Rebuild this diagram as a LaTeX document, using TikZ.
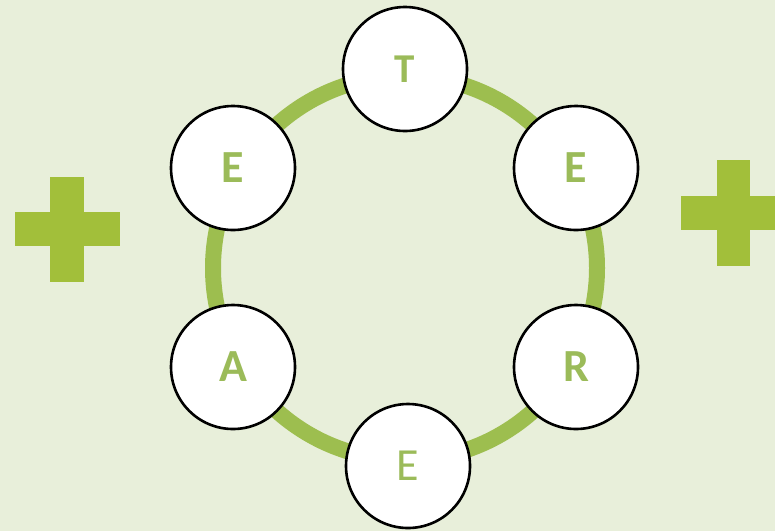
\documentclass[tikz,border=0pt]{standalone}
\usepackage{fontspec}
\setmainfont{Carlito}
\definecolor{bgc}{HTML}{E8EFDA}
\definecolor{ringc}{HTML}{9DBE4F}
\definecolor{plusc}{HTML}{A2BF3A}
\definecolor{txtc}{HTML}{9BBB59}
\begin{document}
\begin{tikzpicture}[x=1pt,y=-1pt,
  letter/.style={circle,draw=black,line width=2.6pt,fill=white,minimum size=124pt,inner sep=0pt,text=txtc,font=\fontsize{46}{46}\selectfont\bfseries},
  pluspart/.style={fill=plusc}]
\useasboundingbox (0,0) rectangle (775,531);
\fill[bgc] (0,0) rectangle (775,531);
% plus signs
\fill[pluspart] (50,177) rectangle (84,282);
\fill[pluspart] (14.5,212.3) rectangle (119.5,246.3);
\fill[pluspart] (716.7,160) rectangle (750.3,266);
\fill[pluspart] (680.7,196) rectangle (786,230);
% ring
\coordinate (ctr) at (405,268);
\draw[ringc,line width=16pt] (ctr) circle[radius=192];
% nodes
\node[letter,font=\fontsize{41}{41}\selectfont\bfseries] (t) at (405,69) {T};
\node[letter] (e1) at (576,168) {E};
\node[letter] (r) at (576,367) {R};
\node[letter,font=\fontsize{46}{46}\selectfont] (e2) at (408,466) {E};
\node[letter] (a) at (233,367) {A};
\node[letter] (e3) at (233,168) {E};
\end{tikzpicture}
\end{document}
